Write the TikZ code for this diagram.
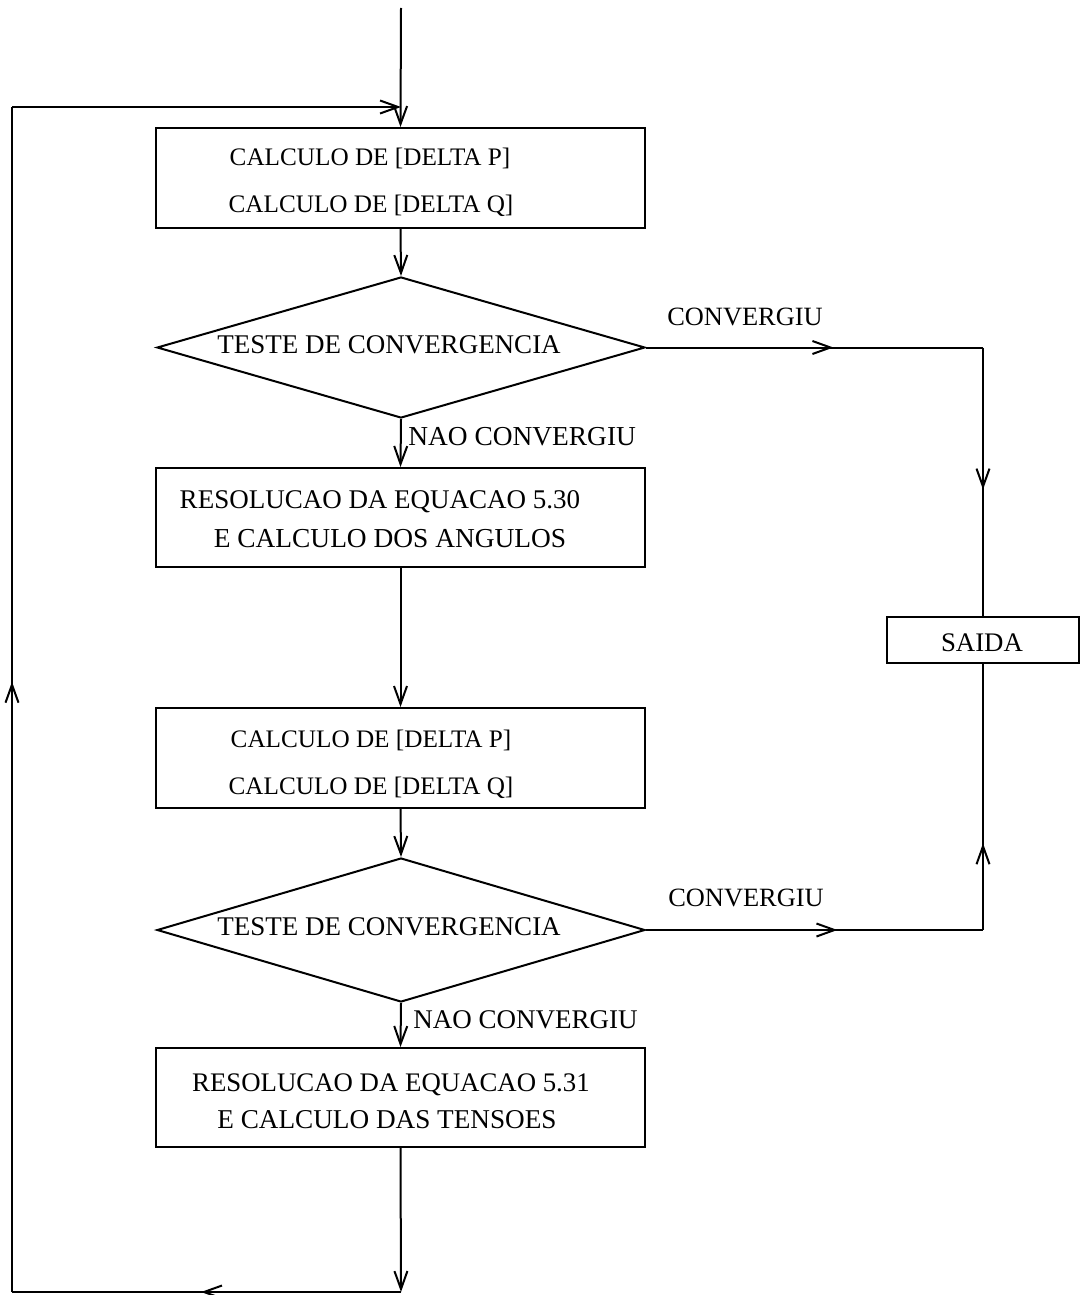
\documentclass[tikz,border=0pt]{standalone}
\usepackage{fontspec}
\setmainfont{Liberation Serif}
\usetikzlibrary{arrows.meta,shapes.geometric,decorations.markings}

\begin{document}
\begin{tikzpicture}[x=0.5pt,y=-0.5pt,
  barb/.tip={Straight Barb[length=9pt,width=6.5pt]},
  flow/.style={draw, line width=1pt, -barb},
  midarrow/.style={line width=1pt, postaction={decorate},
    decoration={markings, mark=at position #1 with {\arrow{barb}}}},
  box/.style={draw, rectangle, inner sep=0pt, line width=1pt},
  test/.style={draw, diamond, inner sep=0pt, line width=1pt},
  txt/.style={inner sep=0pt, anchor=base, font=\fontsize{13.5}{15}\selectfont},
  calc/.style={txt, font=\fontsize{12.6}{14}\selectfont},
]
\useasboundingbox (0,0) rectangle (1080,1295);

% shapes
\node[box, minimum width=244.5pt, minimum height=50pt] (b1) at (400.5,178) {};
\node[test, minimum width=244pt, minimum height=70.5pt] (d1) at (401,347.5) {};
\node[box, minimum width=244.5pt, minimum height=49.5pt] (b2) at (400.5,517.5) {};
\node[box, minimum width=244.5pt, minimum height=50pt] (b3) at (400.5,758) {};
\node[test, minimum width=244pt, minimum height=72pt] (d2) at (401,930) {};
\node[box, minimum width=244.5pt, minimum height=49.5pt] (b4) at (400.5,1097.5) {};
\node[box, minimum width=96pt, minimum height=23pt] (out) at (983,640) {};

% texts
\node[calc] (t1a) at (370,165) {CALCULO DE [DELTA P]};
\node[calc] (t1b) at (371,212) {CALCULO DE [DELTA Q]};
\node[txt] (td1) at (389,353) {TESTE DE CONVERGENCIA};
\node[txt, font=\fontsize{13.2}{15}\selectfont] (tc1) at (745,325) {CONVERGIU};
\node[txt, anchor=base west, font=\fontsize{13.7}{15}\selectfont] (tn1) at (408,445) {NAO CONVERGIU};
\node[txt] (t2a) at (380,508) {RESOLUCAO DA EQUACAO 5.30};
\node[txt, font=\fontsize{13.7}{15}\selectfont] (t2b) at (390,547) {E CALCULO DOS ANGULOS};
\node[txt, font=\fontsize{13.4}{15}\selectfont] (tout) at (982,651) {SAIDA};
\node[calc] (t3a) at (371,747) {CALCULO DE [DELTA P]};
\node[calc] (t3b) at (371,794) {CALCULO DE [DELTA Q]};
\node[txt, font=\fontsize{13.2}{15}\selectfont] (tc2) at (746,906) {CONVERGIU};
\node[txt] (td2) at (389,935) {TESTE DE CONVERGENCIA};
\node[txt, anchor=base west, font=\fontsize{13.5}{15}\selectfont] (tn2) at (413,1028) {NAO CONVERGIU};
\node[txt, font=\fontsize{13.4}{15}\selectfont] (t4a) at (391,1091) {RESOLUCAO DA EQUACAO 5.31};
\node[txt, font=\fontsize{13.6}{15}\selectfont] (t4b) at (387,1128) {E CALCULO DAS TENSOES};

% route points
\coordinate (entry) at (401,8);
\coordinate (c1) at (983,347.5);
\coordinate (c2) at (983,930);
\coordinate (bm) at (401,1292);
\coordinate (bl) at (12,1292);
\coordinate (tl) at (12,107);
\coordinate (tm) at (401,107);

% main column
\draw[flow] (entry) -- (b1.north);
\draw[flow] (b1.south) -- (d1.north);
\draw[flow] (d1.south) -- (b2.north);
\draw[flow] (b2.south) -- (b3.north);
\draw[flow] (b3.south) -- (d2.north);
\draw[flow] (d2.south) -- (b4.north);
\draw[flow] (b4.south) -- (bm);

% exits to SAIDA
\draw[midarrow=0.556] (d1.east) -- (c1);
\draw[midarrow=0.529] (c1) -- (out.north);
\draw[midarrow=0.568] (d2.east) -- (c2);
\draw[midarrow=0.326] (c2) -- (out.south);

% iteration loop
\draw[midarrow=0.514] (bm) -- (bl);
\draw[midarrow=0.515] (bl) -- (tl);
\draw[flow] (tl) -- (tm);
\end{tikzpicture}
\end{document}
